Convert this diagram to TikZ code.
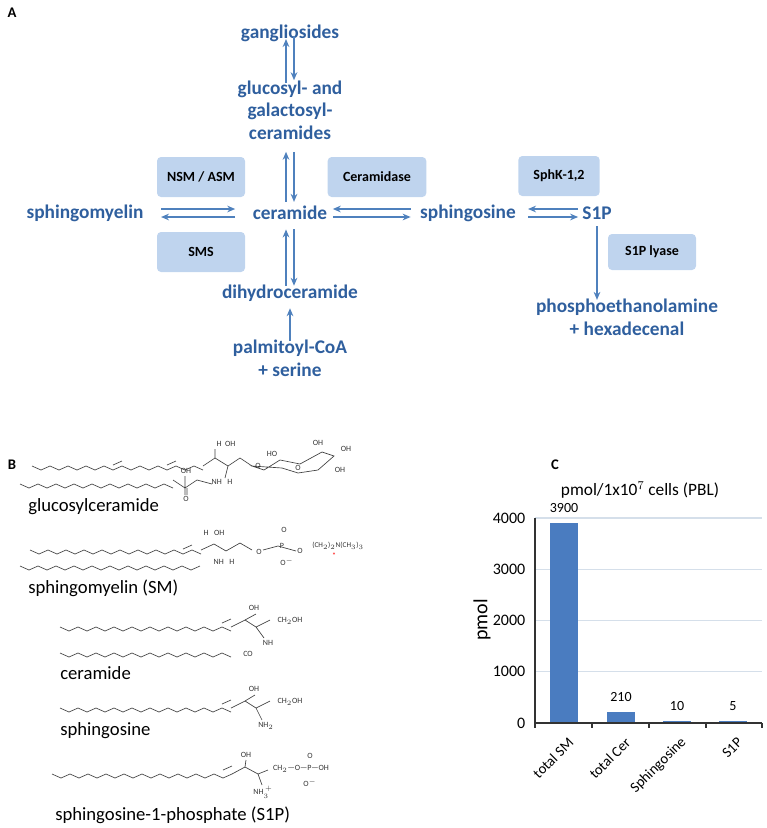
\documentclass[tikz,border=0pt]{standalone}
\usepackage{fontspec}
\setmainfont{Carlito}
\usetikzlibrary{arrows.meta}
\definecolor{pathblue}{HTML}{2F5F9E}
\definecolor{arrblue}{HTML}{4F81BD}
\definecolor{boxblue}{HTML}{BFD4EE}
\definecolor{barblue}{HTML}{4A7CC0}
\definecolor{gridblue}{HTML}{D5DFEA}
\newcommand{\zigzag}[3]{\draw[chem] (#1,#2) \foreach \i in {1,...,#3}{ -- ++(9,{mod(\i,2)*8-4}) };}
\begin{document}
\begin{tikzpicture}[x=0.75pt,y=-0.75pt,
  met/.style={text=pathblue,font=\fontsize{14.5}{17}\selectfont\bfseries,align=center,inner sep=1pt},
  enz/.style={fill=boxblue,rounded corners=3pt,font=\fontsize{10.5}{12}\selectfont\bfseries,minimum height=30pt},
  flow/.style={arrblue,line width=1.2pt,-{Stealth[length=6pt,width=5pt]}},
  chem/.style={black!75,line width=0.5pt},
  atom/.style={font=\fontsize{6}{7}\selectfont,inner sep=0.5pt,text=black!80},
  lbl/.style={font=\fontsize{14}{16}\selectfont,anchor=west,inner sep=0pt},
  panel/.style={font=\fontsize{11}{13}\selectfont\bfseries}]
\useasboundingbox (0,0) rectangle (767,828);

% Panel A
\node[panel] at (12,13) {A};
\node[enz,minimum width=66pt] (nsm) at (201,177) {NSM / ASM};
\node[enz,minimum width=74pt] (cdase) at (377,177) {Ceramidase};
\node[enz,minimum width=61pt] (sphk) at (559,176) {SphK-1,2};
\node[enz,minimum width=66pt] (sms) at (201,252) {SMS};
\node[enz,minimum width=66pt,minimum height=27pt] (lyase) at (652,252) {S1P lyase};

\node[met] (gang) at (290,33) {gangliosides};
\node[met] (gcer) at (290,110) {glucosyl- and\\galactosyl-\\ceramides};
\node[met] (sm) at (85,213) {sphingomyelin};
\node[met] (cer) at (290,213) {ceramide};
\node[met] (sph) at (468,213) {sphingosine};
\node[met] (s1p) at (597,213) {S1P};
\node[met] (dhcer) at (290,293) {dihydroceramide};
\node[met] (palm) at (290,358) {palmitoyl-CoA\\+ serine};
\node[met] (peth) at (627,317) {phosphoethanolamine\\+ hexadecenal};

% Reversible steps
\draw[flow] ([xshift=-3pt,yshift=-3pt]gcer.north) -- ([xshift=-3pt,yshift=3pt]gang.south);
\draw[flow] ([xshift=3pt,yshift=5pt]gang.south) -- ([xshift=3pt,yshift=-1pt]gcer.north);
\draw[flow] ([xshift=-3pt,yshift=2pt]cer.north) -- ([xshift=-3pt,yshift=-8pt]gcer.south);
\draw[flow] ([xshift=3pt,yshift=-8pt]gcer.south) -- ([xshift=3pt,yshift=2pt]cer.north);
\draw[flow] ([xshift=-3pt,yshift=-2pt]dhcer.north) -- ([xshift=-3pt,yshift=-6pt]cer.south);
\draw[flow] ([xshift=3pt,yshift=-6pt]cer.south) -- ([xshift=3pt,yshift=-2pt]dhcer.north);
\draw[flow] ([xshift=12pt,yshift=3pt]sm.east) -- ([xshift=-12pt,yshift=3pt]cer.west);
\draw[flow] ([xshift=-12pt,yshift=-3pt]cer.west) -- ([xshift=12pt,yshift=-3pt]sm.east);
\draw[flow] ([xshift=3pt,yshift=-3pt]cer.east) -- ([xshift=-6pt,yshift=-3pt]sph.west);
\draw[flow] ([xshift=-6pt,yshift=3pt]sph.west) -- ([xshift=3pt,yshift=3pt]cer.east);
\draw[flow] ([xshift=8pt,yshift=-3pt]sph.east) -- ([xshift=-2pt,yshift=-3pt]s1p.west);
\draw[flow] ([xshift=-2pt,yshift=3pt]s1p.west) -- ([xshift=8pt,yshift=3pt]sph.east);
% One-way steps
\draw[flow] ([yshift=-2pt]palm.north) -- ([yshift=-4pt]dhcer.south);
\draw[flow] ([yshift=-4pt]s1p.south) -- ([yshift=-2pt]s1p.south |- peth.north);

% Panel B
\node[panel] at (12,465) {B};
% glucosylceramide
\zigzag{32}{466}{19}
\draw[chem] (113,465) -- (122,461) (167,465) -- (176,461);
\draw[chem] (203,466) -- (215,458) -- (228,466) -- (240,458) -- (252,466);
\draw[chem] (215,458) -- (215,449) (228,466) -- (225,478);
\node[atom] (g1) at (226,444) {H\ \ OH};
\zigzag{20}{484}{17}
\draw[chem] (173,480) -- (185,488) -- (197,480) -- (212,484) (185,476) -- (185,488) (185,488) -- (185,495) (187,488) -- (187,495);
\node[atom] at (186,471) {OH};
\node[atom] at (186,499) {O};
\node[atom] at (222,482) {NH\ \ \ H};
\draw[chem] (252,466) -- (264,470) -- (280,460) -- (300,464) -- (322,452) -- (334,456) -- (318,470) -- (298,473) -- (282,468) -- cycle;
\node[atom] at (258,466) {O};
\node[atom] at (272,454) {HO};
\node[atom] at (298,468) {O};
\node[atom] at (318,443) {OH};
\node[atom] at (346,449) {OH};
\node[atom] at (340,470) {OH};
\node[lbl] at (28,507) {glucosylceramide};

% sphingomyelin
\zigzag{30}{550}{19}
\draw[chem] (183,549) -- (192,545);
\draw[chem] (201,550) -- (214,544) -- (226,551) -- (240,543) -- (252,550);
\node[atom] at (214,533) {H\ \ \ OH};
\zigzag{20}{566}{20}
\node[atom] at (224,562) {NH\ \ \ H};
\node[atom] at (259,552) {O};
\draw[chem] (263,550) -- (278,546) -- (296,551);
\node[atom] at (282,546) {P};
\node[atom] at (284,530) {O};
\node[atom] at (287,562) {O$^-$};
\node[atom] at (300,551) {O};
\node[atom,font=\fontsize{5.5}{6}\selectfont] at (338,546) {(CH$_2$)$_2$N(CH$_3$)$_3$};
\node[atom,text=red] at (334,556) {*};
\node[lbl] at (28,588) {sphingomyelin (SM)};

% ceramide
\zigzag{60}{627}{19}
\draw[chem] (222,623) -- (231,619);
\draw[chem] (231,627) -- (245,620) -- (256,627) -- (270,620) (256,627) -- (264,638) (256,614) -- (245,620);
\node[atom] at (254,608) {OH};
\node[atom] at (290,621) {CH$_2$OH};
\node[atom] at (268,643) {NH};
\zigzag{60}{653}{19}
\node[atom] at (248,654) {CO};
\node[lbl] at (60,673) {ceramide};

% sphingosine
\zigzag{60}{708}{19}
\draw[chem] (222,704) -- (231,700);
\draw[chem] (231,708) -- (245,701) -- (256,708) -- (270,701) (256,708) -- (262,720) (255,695) -- (245,701);
\node[atom] at (254,689) {OH};
\node[atom] at (290,702) {CH$_2$OH};
\node[atom] at (266,726) {NH$_2$};
\node[lbl] at (60,731) {sphingosine};

% sphingosine-1-phosphate
\zigzag{52}{774}{20}
\draw[chem] (223,770) -- (232,766);
\draw[chem] (232,774) -- (245,767) -- (258,774) -- (268,770) (258,774) -- (262,785) (245,767) -- (246,760);
\node[atom] at (246,755) {OH};
\node[atom] at (301,769) {CH$_2$—O—P—OH};
\node[atom] at (310,756) {O};
\node[atom] at (310,783) {O$^-$};
\node[atom] at (263,792) {NH$_3^{\,+}$};
\node[lbl] at (55,815) {sphingosine-1-phosphate (S1P)};

% Panel C
\node[panel] at (555,465) {C};
\node[font=\fontsize{13}{15}\selectfont] (title) at (640,490) {pmol/1x10$^7$ cells (PBL)};
\foreach \v in {1000,2000,3000,4000}
  \draw[gridblue,line width=0.8pt] (535,{723-\v*0.05125}) -- (762,{723-\v*0.05125});
\foreach \v in {0,1000,2000,3000,4000}
  \node[anchor=east,font=\fontsize{12}{14}\selectfont] at (530,{723-\v*0.05125}) {\v};
\node[rotate=90,font=\fontsize{15}{17}\selectfont] (ylab) at (482,620) {pmol};
\foreach \x/\h/\n/\c in {564/3900/3900/total SM,621/210/210/total Cer,677/40/10/Sphingosine,733/40/5/S1P}{
  \fill[barblue] (\x-14,723) rectangle (\x+14,{723-\h*0.05125});
  \node[anchor=south,font=\fontsize{10.5}{12}\selectfont] at (\x,{717-\h*0.05125}) {\n};
  \node[anchor=east,rotate=45,font=\fontsize{11}{12}\selectfont,inner sep=1pt] at (\x+8,739) {\c};
}
\draw[black!80,line width=0.8pt] (535,518) -- (535,723) -- (762,723);
\foreach \x in {535,592,649,706,762} \draw[black!80,line width=0.8pt] (\x,723) -- (\x,728);
\end{tikzpicture}
\end{document}
